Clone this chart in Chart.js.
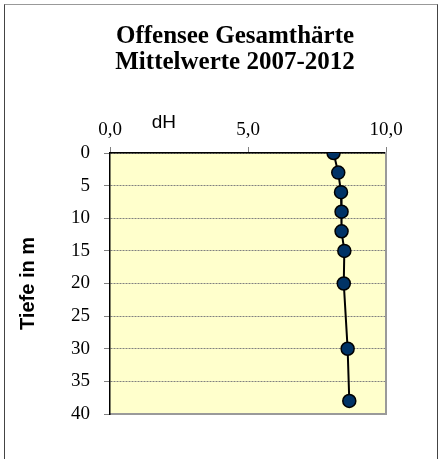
<!DOCTYPE html>
<html>
<head>
<meta charset="utf-8">
<script src="https://cdn.jsdelivr.net/npm/chart.js@4/dist/chart.umd.min.js"></script>
<style>
  body { margin: 0; background: #fff; }
  #frame { position: absolute; left: 4px; top: 4px; width: 434px; height: 470px;
           border: 1px solid #444; border-top-color: #999; box-sizing: border-box; }
  #myChart { position: absolute; left: 0; top: 0; }
</style>
</head>
<body>
<div id="frame"></div>
<canvas id="myChart" width="442" height="459"></canvas>
<script>
// depth in m (y) and mean total hardness in dH (x)
const depths = [0, 3, 6, 9, 12, 15, 20, 30, 38];
const hardness = [8.1, 8.27, 8.37, 8.39, 8.39, 8.49, 8.47, 8.61, 8.67];
const titleLines = ['Offensee Gesamthärte', 'Mittelwerte 2007-2012'];
const xTicks = [0, 5, 10];
const yTicks = [0, 5, 10, 15, 20, 25, 30, 35, 40];

const serif = '"Liberation Serif", "Times New Roman", serif';
const sans = '"Liberation Sans", Arial, sans-serif';

// yellow plot area + "dH" unit label next to the top axis
const plotDecor = {
  id: 'plotDecor',
  beforeDraw(chart) {
    const {ctx, chartArea: a} = chart;
    ctx.save();
    ctx.fillStyle = '#FFFFCC';
    ctx.fillRect(a.left, a.top, a.right - a.left, a.bottom - a.top);
    ctx.restore();
  },
  afterDraw(chart) {
    const {ctx, chartArea: a} = chart;
    ctx.save();
    ctx.font = '19px ' + sans;
    ctx.fillStyle = '#000';
    ctx.textAlign = 'center';
    ctx.textBaseline = 'middle';
    ctx.fillText('dH', chart.scales.x.getPixelForValue(1.95), a.top - 30);
    ctx.restore();
  }
};

const points = depths.map((d, i) => ({x: hardness[i], y: d}));

const chart = new Chart(document.getElementById('myChart'), {
  type: 'scatter',
  data: {
    datasets: [{
      data: points,
      showLine: true,
      borderColor: '#000',
      borderWidth: 2,
      pointRadius: 6.5,
      pointBackgroundColor: '#003366',
      pointBorderColor: '#000',
      pointBorderWidth: 1.5
    }]
  },
  options: {
    responsive: false,
    animation: false,
    layout: {padding: {left: 0, right: -28, top: 0, bottom: 0}},
    plugins: {
      legend: {display: false},
      tooltip: {enabled: false},
      title: {
        display: true,
        text: titleLines,
        color: '#000',
        font: {family: serif, size: 25, weight: 'bold', lineHeight: '26px'},
        padding: {top: 24, bottom: 10}
      }
    },
    scales: {
      x: {
        type: 'linear',
        position: 'top',
        min: 0, max: 10,
        afterBuildTicks: s => { s.ticks = xTicks.map(v => ({value: v})); },
        afterFit: s => { s.height = 67; },
        ticks: {
          color: '#000',
          padding: 6,
          font: {family: serif, size: 19},
          callback: v => v.toFixed(1).replace('.', ',')
        },
        grid: {drawOnChartArea: false, tickLength: 6, color: '#808080'},
        border: {color: '#000', width: 1.5}
      },
      x2: {
        type: 'linear',
        position: 'bottom',
        min: 0, max: 10,
        afterFit: s => { s.height = 45; },
        ticks: {display: false},
        grid: {drawOnChartArea: false, drawTicks: false},
        border: {color: '#9a9a9a', width: 2}
      },
      y: {
        type: 'linear',
        position: 'left',
        reverse: true,
        min: 0, max: 40,
        afterBuildTicks: s => { s.ticks = yTicks.map(v => ({value: v})); },
        afterFit: s => { s.width = 110; },
        ticks: {
          color: '#000',
          padding: 14,
          font: {family: serif, size: 19}
        },
        grid: {color: '#808080', lineWidth: 1, tickLength: 6},
        border: {color: '#000', width: 1.5, dash: [2, 1]},
        title: {
          display: true,
          text: 'Tiefe in m',
          color: '#000',
          font: {family: sans, size: 20, weight: 'bold'},
          padding: {top: 16}
        }
      },
      y2: {
        type: 'linear',
        position: 'right',
        reverse: true,
        min: 0, max: 40,
        afterFit: s => { s.width = 84; },
        ticks: {display: false},
        grid: {drawOnChartArea: false, drawTicks: false},
        border: {color: '#9a9a9a', width: 2}
      }
    }
  },
  plugins: [plotDecor]
});
</script>
</body>
</html>
